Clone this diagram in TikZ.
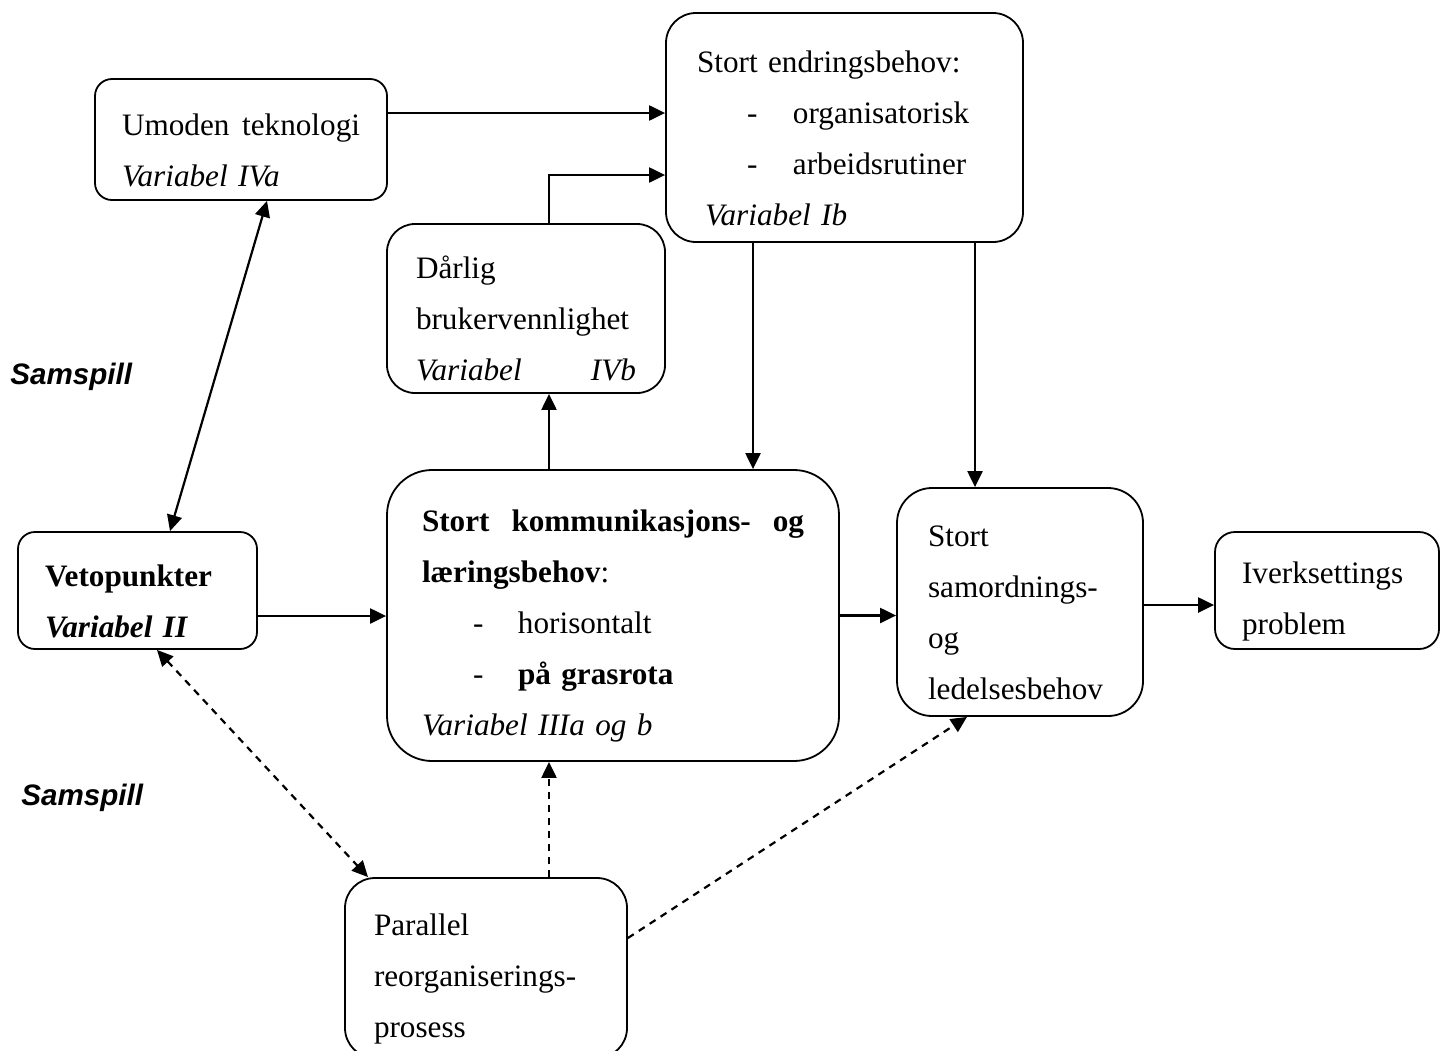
\documentclass[tikz,border=0pt]{standalone}
\usepackage{fontspec}
\setmainfont{Liberation Serif}
\newfontfamily\samspfont{Liberation Sans}
\usetikzlibrary{arrows.meta}

\begin{document}
\begin{tikzpicture}
   [x=0.5pt,y=-0.5pt,
    >={Triangle[length=8pt,width=7.5pt]},
    box/.style={draw,line width=0.9pt,align=left,inner ysep=0pt,
      font=\fontsize{15.6}{25.5}\selectfont,
      execute at begin node={\rule{0pt}{21.5pt}}},
    arr/.style={->,line width=1.1pt},
    dsh/.style={dash pattern=on 3.5pt off 3pt},
    samsp/.style={anchor=base west,inner sep=0pt,
      font=\samspfont\bfseries\itshape\fontsize{14.8}{18}\selectfont}]
   \useasboundingbox (0,0) rectangle (1450,1050);

   \node (umoden) [box,rounded corners=8.5pt,minimum width=146pt,minimum height=60.5pt,
      inner xsep=13.5pt,text width=119pt] at (241,139.5)
      {Umoden\hfill teknologi\\ \textit{Variabel IVa}};
   \node (endring) [box,rounded corners=15pt,minimum width=178.5pt,minimum height=114.5pt,
      inner xsep=15.5pt,text width=147.5pt] at (844.5,127.5)
      {Stort endringsbehov:\\
       \hspace*{25pt}\makebox[23pt][l]{-}organisatorisk\\
       \hspace*{25pt}\makebox[23pt][l]{-}arbeidsrutiner\\
       \hspace*{4pt}\textit{Variabel Ib}};
   \node (darlig) [box,rounded corners=14pt,minimum width=139pt,minimum height=84.5pt,
      inner xsep=14.5pt,text width=110pt] at (526,308.5)
      {Dårlig\\ brukervennlighet\\ \textit{Variabel\hfill IVb}};
   \node (komm) [box,rounded corners=22.5pt,minimum width=226pt,minimum height=145.5pt,
      inner xsep=17.5pt,text width=191pt] at (613,615.5)
      {\textbf{Stort\hfill kommunikasjons-\hfill og}\\
       \textbf{læringsbehov}:\\
       \hspace*{25.5pt}\makebox[22.5pt][l]{-}horisontalt\\
       \hspace*{25.5pt}\makebox[22.5pt][l]{-}\textbf{på grasrota}\\
       \textit{Variabel IIIa og b}};
   \node (veto) [box,rounded corners=8.5pt,minimum width=119.5pt,minimum height=58.5pt,
      inner xsep=13.5pt,text width=92.5pt] at (137.5,590.5)
      {\textbf{Vetopunkter}\\ \textbf{\textit{Variabel II}}};
   \node (samord) [box,rounded corners=17.5pt,minimum width=123pt,minimum height=114pt,
      inner xsep=15.5pt,text width=92pt] at (1020,602)
      {Stort\\ samordnings-\\ og\\ ledelsesbehov};
   \node (iverk) [box,rounded corners=10pt,minimum width=112pt,minimum height=58.5pt,
      inner xsep=13.5pt,text width=85pt] at (1327,590.5)
      {Iverksettings\\ problem};
   \node (parall) [box,rounded corners=15pt,minimum width=141pt,minimum height=90pt,
      inner xsep=14.5pt,text width=112pt] at (486,968)
      {Parallel\\ reorganiserings-\\ prosess};

   \node (samsp1) [samsp] at (10,384) {Samspill};
   \node (samsp2) [samsp] at (21,805) {Samspill};

   \draw[arr] ([yshift=13.25pt]umoden.east) -- ([yshift=13.25pt]umoden.east -| endring.west);
   \draw[arr] ([xshift=11.5pt]darlig.north) |- ([yshift=-23.75pt]endring.west);
   \draw[arr] ([xshift=-45.75pt]endring.south) -- ([xshift=-45.75pt]endring.south |- komm.north);
   \draw[arr] ([xshift=65.25pt]endring.south) -- ([xshift=65.25pt]endring.south |- samord.north);
   \draw[arr] ([xshift=-32pt]komm.north) -- ([xshift=-32pt]komm.north |- darlig.south);
   \draw[arr] ([yshift=-12.75pt]veto.east) -- ([yshift=-12.75pt]veto.east -| komm.west);
   \draw[arr] (komm.east) -- (komm.east -| samord.west);
   \draw[arr] ([yshift=-1.5pt]samord.east) -- ([yshift=-1.5pt]samord.east -| iverk.west);
   \draw[arr,<->] ([xshift=13pt]umoden.south) -- ([xshift=16.25pt]veto.north);
   \draw[arr,<->,dsh] ([xshift=9.75pt]veto.south) -- ([xshift=-59pt]parall.north);
   \draw[arr,dsh] ([xshift=31.5pt]parall.north) -- ([xshift=31.5pt]parall.north |- komm.south);
   \draw[arr,dsh] ([yshift=15pt]parall.east) -- ([xshift=-26.5pt]samord.south);
\end{tikzpicture}
\end{document}
